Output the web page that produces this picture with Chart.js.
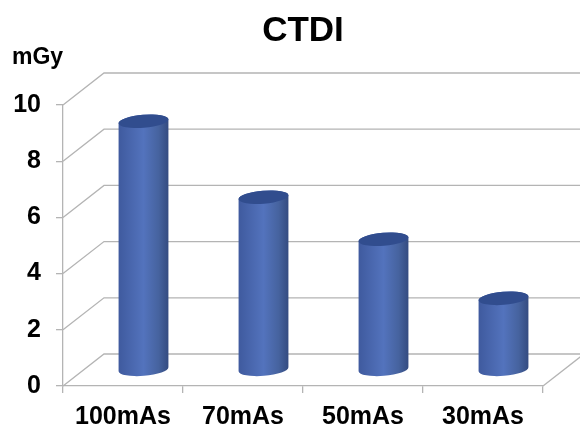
<!DOCTYPE html>
<html>
<head>
<meta charset="utf-8">
<title>CTDI</title>
<script src="https://cdn.jsdelivr.net/npm/chart.js@4"></script>
<style>
  html, body { margin: 0; padding: 0; background: #fff; }
  canvas { display: block; }
</style>
</head>
<body>
<canvas id="chart" width="580" height="428"></canvas>
<script>
const categories = ['100mAs', '70mAs', '50mAs', '30mAs'];
const ctdiValues = [8.85, 6.15, 4.65, 2.55];
const unitLabel = 'mGy';

const gridColor = '#b4b4b4';
const font = 'Liberation Sans, Arial, sans-serif';
// how far the back wall sits from the front of the box
const depthX = 41;
const depthY = -32;

// back wall and floor lines, the library only gives us the front plane
const depthGrid = {
  id: 'depthGrid',
  beforeDatasetsDraw(chart) {
    const {ctx, scales: {x, y}} = chart;
    ctx.save();
    ctx.strokeStyle = gridColor;
    ctx.lineWidth = 1.3;
    y.ticks.forEach(t => {
      const py = y.getPixelForValue(t.value);
      ctx.beginPath();
      ctx.moveTo(x.left, py);
      ctx.lineTo(x.left + depthX, py + depthY);
      ctx.lineTo(chart.width, py + depthY);
      ctx.stroke();
    });
    const floor = y.getPixelForValue(0);
    ctx.beginPath();
    ctx.moveTo(x.right, floor);
    ctx.lineTo(x.right + depthX, floor + depthY);
    ctx.stroke();
    ctx.restore();
  }
};

// draw each bar as a cylinder standing in the middle of the floor
const cylinders = {
  id: 'cylinders',
  beforeDatasetDraw(chart, args) {
    const {ctx} = chart;
    const tilt = -0.08;
    args.meta.data.forEach(bar => {
      const rx = bar.width / 2;
      const ry = 6.5;
      const cx = bar.x + depthX / 2;
      const top = bar.y + depthY / 2;
      const base = bar.base + depthY / 2;
      const grad = ctx.createLinearGradient(cx - rx, 0, cx + rx, 0);
      grad.addColorStop(0, '#3f5a9e');
      grad.addColorStop(0.5, '#5373bd');
      grad.addColorStop(0.8, '#46639f');
      grad.addColorStop(1, '#344b80');
      ctx.save();
      ctx.fillStyle = grad;
      ctx.beginPath();
      ctx.ellipse(cx, base, rx, ry, tilt, 0, Math.PI);
      ctx.ellipse(cx, top, rx, ry, tilt, Math.PI, 0);
      ctx.closePath();
      ctx.fill();
      ctx.fillStyle = '#314d8e';
      ctx.beginPath();
      ctx.ellipse(cx, top, rx, ry, tilt, 0, Math.PI * 2);
      ctx.fill();
      ctx.restore();
    });
    return false;
  }
};

const unitText = {
  id: 'unitText',
  afterDraw(chart) {
    const {ctx} = chart;
    ctx.save();
    ctx.font = `bold 23px ${font}`;
    ctx.fillStyle = '#000';
    ctx.textBaseline = 'alphabetic';
    ctx.fillText(unitLabel, 12, 64);
    ctx.restore();
  }
};

new Chart(document.getElementById('chart').getContext('2d'), {
  type: 'bar',
  data: {
    labels: categories,
    datasets: [{
      label: 'CTDI',
      data: ctdiValues,
      barThickness: 50,
      backgroundColor: '#4a68b0',
    }]
  },
  plugins: [depthGrid, cylinders, unitText],
  options: {
    responsive: false,
    animation: false,
    layout: {padding: {top: 10, right: 37, bottom: 0, left: 0}},
    plugins: {
      legend: {display: false},
      tooltip: {enabled: false},
      title: {
        display: true,
        text: 'CTDI',
        color: '#000',
        fullSize: false,
        font: {family: font, size: 35, weight: 'bold', lineHeight: 1.2},
        padding: {top: 0, bottom: 53},
      },
    },
    scales: {
      x: {
        afterFit: scale => { scale.height = 42; },
        border: {color: gridColor, width: 1.3},
        grid: {drawOnChartArea: false, color: gridColor, tickLength: 7, lineWidth: 1.3},
        ticks: {color: '#000', padding: 9, maxRotation: 0, font: {family: font, size: 25, weight: 'bold'}},
      },
      y: {
        min: 0,
        max: 10,
        afterFit: scale => { scale.width = 63; },
        border: {color: gridColor, width: 1.3},
        grid: {drawOnChartArea: false, color: gridColor, tickLength: 7, lineWidth: 1.3},
        ticks: {stepSize: 2, color: '#000', padding: 15, font: {family: font, size: 25, weight: 'bold'}},
      },
    },
  },
});
</script>
</body>
</html>
